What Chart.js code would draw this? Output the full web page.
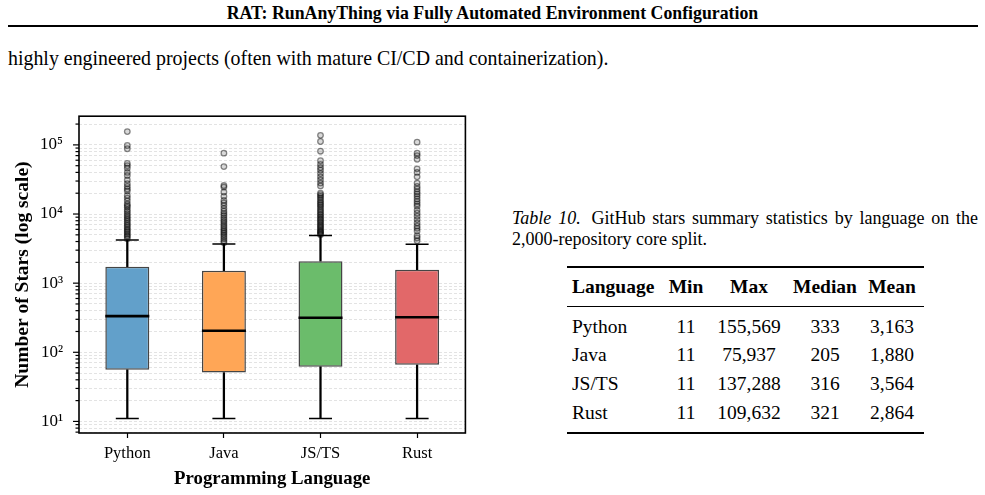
<!DOCTYPE html>
<html>
<head>
<meta charset="utf-8">
<script src="https://cdn.jsdelivr.net/npm/chart.js@4.4.1/dist/chart.umd.min.js"></script>
<style>
  html, body { margin: 0; padding: 0; background: #fff; }
  body { width: 985px; height: 495px; position: relative; overflow: hidden;
         font-family: 'Liberation Serif', 'DejaVu Serif', serif; color: #000; }
  #header { position: absolute; left: 0; width: 985px; top: 3px; text-align: center;
            font-weight: bold; font-size: 17.8px; line-height: 20px; }
  #rule { position: absolute; left: 8px; width: 970px; top: 25px; height: 2px; background: #000; }
  #para { position: absolute; left: 8px; top: 46px; font-size: 19.9px; line-height: 24px; white-space: nowrap; }
  #chartBox { position: absolute; left: 0; top: 90px; width: 490px; height: 405px; }
  #caption { position: absolute; left: 512px; top: 208px; width: 466px; font-size: 18px;
             line-height: 21px; text-align: justify; }
  #caption i { margin-right: 4px; }
  #stats { position: absolute; left: 567px; top: 266px; border-collapse: collapse; font-size: 19.5px; }
  #stats th, #stats td { padding: 0; text-align: center; }
  #stats th:first-child, #stats td:first-child { text-align: left; padding-left: 5px; }
  #stats thead tr { height: 39px; border-top: 2px solid #000; border-bottom: 1.3px solid #000; }
  #stats tbody tr { height: 28.7px; line-height: 28.7px; }
  #stats tbody tr:first-child td { padding-top: 6px; }
  #stats tbody tr:last-child td { padding-bottom: 5px; }
  #stats tbody { border-bottom: 2px solid #000; }
</style>
</head>
<body>
<div id="header">RAT: RunAnyThing via Fully Automated Environment Configuration</div>
<div id="rule"></div>
<div id="para">highly engineered projects (often with mature CI/CD and containerization).</div>
<div id="chartBox"><canvas id="chart"></canvas></div>
<div id="caption"><i>Table 10.</i> GitHub stars summary statistics by language on the 2,000-repository core split.</div>
<table id="stats">
  <colgroup>
    <col style="width:97px"><col style="width:44px"><col style="width:82px"><col style="width:70px"><col style="width:64px">
  </colgroup>
  <thead><tr><th>Language</th><th>Min</th><th>Max</th><th>Median</th><th>Mean</th></tr></thead>
  <tbody id="statsBody"></tbody>
</table>
<script>
// categories
const languages = ['Python', 'Java', 'JS/TS', 'Rust'];

// box plot summary
const whiskerLow = [11, 11, 11, 11];
const q1 = [56, 51, 62, 66];
const median = [333, 205, 316, 321];
const q3 = [1720, 1510, 2080, 1560];
const whiskerHigh = [4200, 3690, 4900, 3650];

// outliers above the upper whisker
const pythonOut = [155569, 98000, 88000, 54000, 50000, 46000, 40000, 36000, 31000, 27500, 25000, 23000,
  21500, 18500, 17000, 15500, 14000, 13200, 12500, 11500, 10800, 10000, 9400, 8800, 8300, 7800, 7300,
  6900, 6500, 6100, 5800, 5500, 5200, 4900, 4700, 4400];
const javaOut = [75937, 48500, 25800, 24500, 20800, 18000, 15700, 14500, 13300, 12000, 11000, 10200,
  9500, 8800, 8200, 7700, 7200, 6700, 6300, 5900, 5600, 5300, 5000, 4700, 4400, 4100, 3850];
const jsOut = [137288, 112000, 81000, 59000, 52000, 47000, 43000, 38500, 34500, 31000, 28000, 25500,
  20000, 19000, 18000, 17000, 16000, 15000, 14200, 13500, 12800, 12000, 11300, 10700, 10100, 9600,
  9100, 8600, 8200, 7800, 7400, 7000, 6700, 6400, 6100, 5800, 5600, 5400, 5200, 5000];
const rustOut = [109632, 76000, 70000, 62000, 45000, 40000, 34500, 28000, 25000, 23000, 21000, 19500,
  18000, 16500, 15200, 14000, 13000, 11400, 10300, 9300, 8300, 7400, 6700, 6200, 5700, 4850, 4500, 4100];
const outliers = [pythonOut, javaOut, jsOut, rustOut];

// y axis ticks: every 1..9 x 10^n between the limits
const yTickValues = [7, 8, 9, 10, 20, 30, 40, 50, 60, 70, 80, 90, 100, 200, 300, 400, 500, 600, 700, 800, 900,
  1000, 2000, 3000, 4000, 5000, 6000, 7000, 8000, 9000, 10000, 20000, 30000, 40000, 50000, 60000, 70000,
  80000, 90000, 100000, 200000];
const yMin = 6.8;
const yMax = 260000;

// table 10
const tableMin = ['11', '11', '11', '11'];
const tableMax = ['155,569', '75,937', '137,288', '109,632'];
const tableMedian = ['333', '205', '316', '321'];
const tableMean = ['3,163', '1,880', '3,564', '2,864'];

const boxColors = ['#62a0ca', '#ffa656', '#6bbc6b', '#e26869'];

const tbody = document.getElementById('statsBody');
languages.forEach((lang, i) => {
  const tr = document.createElement('tr');
  [lang, tableMin[i], tableMax[i], tableMedian[i], tableMean[i]].forEach(v => {
    const td = document.createElement('td');
    td.textContent = v;
    tr.appendChild(td);
  });
  tbody.appendChild(tr);
});

const SUP = { '0': '⁰', '1': '¹', '2': '²', '3': '³', '4': '⁴', '5': '⁵', '6': '⁶', '7': '⁷', '8': '⁸', '9': '⁹' };
function isDecade(v) {
  const l = Math.log10(v);
  return Math.abs(l - Math.round(l)) < 1e-9;
}

// frame around the plot + short/long tick marks on the log axis
const framePlugin = {
  id: 'frame',
  afterDraw(chart) {
    const { ctx, chartArea: a } = chart;
    const ys = chart.scales.y;
    ctx.save();
    ctx.strokeStyle = '#000';
    ctx.lineWidth = 1.2;
    ys.ticks.forEach(t => {
      const py = ys.getPixelForValue(t.value);
      const len = isDecade(t.value) ? 6 : 3.5;
      ctx.beginPath();
      ctx.moveTo(a.left - len, py);
      ctx.lineTo(a.left, py);
      ctx.stroke();
    });
    ctx.lineWidth = 1.6;
    ctx.strokeRect(a.left, a.top, a.right - a.left, a.bottom - a.top);
    ctx.restore();
  }
};

Chart.defaults.font.family = "'Liberation Serif', 'DejaVu Serif', serif";
Chart.defaults.color = '#000';

new Chart(document.getElementById('chart'), {
  type: 'bar',
  data: {
    labels: languages,
    datasets: [
      {
        label: 'lower whisker',
        data: languages.map((_, i) => [whiskerLow[i], q1[i]]),
        backgroundColor: '#000',
        barThickness: 1.6,
        grouped: false,
        order: 6
      },
      {
        label: 'upper whisker',
        data: languages.map((_, i) => [q3[i], whiskerHigh[i]]),
        backgroundColor: '#000',
        barThickness: 1.6,
        grouped: false,
        order: 6
      },
      {
        label: 'box',
        data: languages.map((_, i) => [q1[i], q3[i]]),
        backgroundColor: boxColors,
        borderColor: '#454545',
        borderWidth: 1.5,
        borderSkipped: false,
        barPercentage: 0.455,
        categoryPercentage: 1,
        grouped: false,
        order: 5
      },
      {
        type: 'line',
        label: 'caps',
        data: languages.flatMap((l, i) => [{ x: l, y: whiskerLow[i] }, { x: l, y: whiskerHigh[i] }]),
        showLine: false,
        pointStyle: 'line',
        pointRadius: 11.5,
        pointBorderWidth: 1.6,
        pointBorderColor: '#000',
        order: 4
      },
      {
        type: 'line',
        label: 'median',
        data: languages.map((l, i) => ({ x: l, y: median[i] })),
        showLine: false,
        pointStyle: 'line',
        pointRadius: 22,
        pointBorderWidth: 2.6,
        pointBorderColor: '#000',
        order: 3
      },
      {
        type: 'line',
        label: 'outliers',
        data: languages.flatMap((l, i) => outliers[i].map(v => ({ x: l, y: v }))),
        showLine: false,
        pointStyle: 'circle',
        pointRadius: 2.8,
        pointBorderWidth: 1.3,
        pointBorderColor: 'rgba(0,0,0,0.45)',
        pointBackgroundColor: 'rgba(0,0,0,0.15)',
        order: 1
      }
    ]
  },
  options: {
    responsive: true,
    maintainAspectRatio: false,
    animation: false,
    events: [],
    layout: { padding: { top: 12, right: 24, left: 0, bottom: 0 } },
    plugins: { legend: { display: false }, tooltip: { enabled: false } },
    scales: {
      x: {
        type: 'category',
        offset: true,
        border: { display: false },
        grid: { drawOnChartArea: false, drawTicks: true, tickLength: 5, tickColor: '#000', tickWidth: 1.2, offset: false },
        ticks: { font: { size: 16.5 }, padding: 6, maxRotation: 0 },
        title: { display: true, text: 'Programming Language', font: { size: 18.8, weight: 'bold' },
                 padding: { top: 0, bottom: 5 } },
        afterFit: s => { s.height = 62; }
      },
      y: {
        type: 'logarithmic',
        min: yMin,
        max: yMax,
        border: { display: false, dash: [3, 2] },
        grid: { color: '#dcdcdc', lineWidth: 0.8, drawTicks: false },
        afterBuildTicks: s => { s.ticks = yTickValues.map(v => ({ value: v, major: isDecade(v) })); },
        ticks: {
          autoSkip: false,
          font: { size: 17 },
          padding: 16,
          callback: v => isDecade(v) ? '10' + String(Math.round(Math.log10(v))).split('').map(c => SUP[c]).join('') : ''
        },
        title: { display: true, text: 'Number of Stars (log scale)', font: { size: 19.5, weight: 'bold' },
                 padding: { top: 11, bottom: 0 } },
        afterFit: s => { s.width = 79; }
      }
    }
  },
  plugins: [framePlugin]
});
</script>
</body>
</html>
